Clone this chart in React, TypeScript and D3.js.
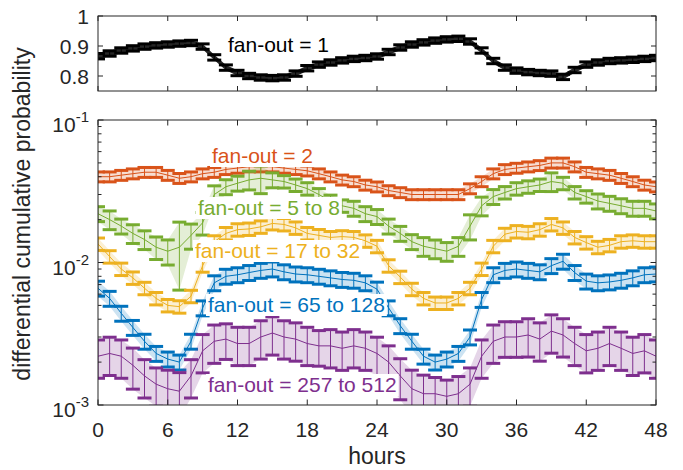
import React, { useEffect, useRef } from "react";
import * as d3 from "d3";

// hours 0..48, one point per hour
const hours = d3.range(0, 49);
const xTicks = [0, 6, 12, 18, 24, 30, 36, 42, 48];
const topTicks = [0.8, 0.9, 1];
const logMajor = [1e-3, 1e-2, 1e-1];
const logExp = ["-3", "-2", "-1"];

const fanout1 = [0.866, 0.875, 0.885, 0.892, 0.898, 0.902, 0.905, 0.908, 0.91, 0.898, 0.862, 0.828, 0.81, 0.8, 0.795, 0.793, 0.795, 0.808, 0.826, 0.838, 0.845, 0.852, 0.857, 0.86, 0.865, 0.88, 0.895, 0.905, 0.912, 0.918, 0.922, 0.924, 0.915, 0.885, 0.85, 0.828, 0.818, 0.813, 0.81, 0.808, 0.797, 0.82, 0.838, 0.845, 0.85, 0.852, 0.854, 0.857, 0.86];
const fanout2 = [0.04, 0.04, 0.041, 0.042, 0.043, 0.043, 0.041, 0.039, 0.04, 0.042, 0.043, 0.045, 0.046, 0.047, 0.047, 0.047, 0.046, 0.045, 0.044, 0.042, 0.04, 0.038, 0.037, 0.035, 0.034, 0.032, 0.031, 0.03, 0.03, 0.03, 0.03, 0.03, 0.033, 0.037, 0.042, 0.045, 0.046, 0.047, 0.048, 0.05, 0.05, 0.047, 0.043, 0.042, 0.041, 0.039, 0.037, 0.035, 0.034];
const fanout5to8 = [0.022, 0.02, 0.018, 0.016, 0.0145, 0.0128, 0.012, 0.0128, 0.0155, 0.019, 0.03, 0.034, 0.036, 0.038, 0.039, 0.038, 0.037, 0.035, 0.033, 0.03, 0.027, 0.025, 0.024, 0.022, 0.021, 0.018, 0.016, 0.014, 0.013, 0.0125, 0.012, 0.013, 0.018, 0.025, 0.029, 0.031, 0.033, 0.034, 0.035, 0.037, 0.036, 0.031, 0.029, 0.027, 0.026, 0.025, 0.024, 0.024, 0.023];
const fanout17to32 = [0.0135, 0.011, 0.009, 0.0078, 0.0066, 0.0056, 0.005, 0.0049, 0.0058, 0.0095, 0.014, 0.016, 0.017, 0.0172, 0.0178, 0.0188, 0.0185, 0.0175, 0.016, 0.0155, 0.015, 0.0152, 0.015, 0.0142, 0.013, 0.0095, 0.0079, 0.0065, 0.0056, 0.0052, 0.0052, 0.0056, 0.0066, 0.009, 0.013, 0.0158, 0.0165, 0.0163, 0.017, 0.0185, 0.0175, 0.015, 0.0138, 0.0128, 0.0132, 0.014, 0.0142, 0.014, 0.014];
const fanout65to128 = [0.0066, 0.0056, 0.0044, 0.0035, 0.0028, 0.0023, 0.0021, 0.002, 0.0028, 0.0048, 0.0072, 0.008, 0.0082, 0.0085, 0.0088, 0.009, 0.0086, 0.0083, 0.0082, 0.008, 0.0078, 0.0076, 0.0075, 0.0072, 0.0065, 0.0048, 0.0036, 0.0028, 0.0022, 0.002, 0.0021, 0.0023, 0.003, 0.0055, 0.0082, 0.0088, 0.009, 0.0088, 0.0086, 0.0095, 0.0102, 0.0085, 0.0074, 0.0072, 0.0073, 0.0075, 0.0078, 0.0082, 0.0083];
const fanout257to512 = [0.0022, 0.0023, 0.0022, 0.0019, 0.0016, 0.0014, 0.0013, 0.00125, 0.0016, 0.0024, 0.0028, 0.0029, 0.0027, 0.0027, 0.003, 0.0032, 0.003, 0.0029, 0.0027, 0.0026, 0.0026, 0.0025, 0.0026, 0.0025, 0.0023, 0.002, 0.0016, 0.0013, 0.0012, 0.0012, 0.00115, 0.0012, 0.0014, 0.0022, 0.0028, 0.003, 0.003, 0.0031, 0.0029, 0.0033, 0.0031, 0.0027, 0.0024, 0.0025, 0.0027, 0.0025, 0.0023, 0.0024, 0.0022];

// relative error bar half-widths
const err5to8 = [0.12, 0.15, 0.12, 0.15, 0.15, 0.18, 0.2, 0.5, 0.2, 0.18, 0.15, 0.12, 0.12, 0.15, 0.22, 0.12, 0.1, 0.1, 0.1, 0.1, 0.1, 0.1, 0.12, 0.12, 0.12, 0.12, 0.12, 0.12, 0.15, 0.15, 0.15, 0.15, 0.2, 0.15, 0.12, 0.1, 0.1, 0.1, 0.1, 0.15, 0.1, 0.1, 0.1, 0.12, 0.12, 0.12, 0.12, 0.12, 0.12];
const err257to512 = [0.3, 0.3, 0.3, 0.32, 0.3, 0.3, 0.35, 0.35, 0.3, 0.3, 0.3, 0.28, 0.3, 0.3, 0.3, 0.3, 0.3, 0.3, 0.3, 0.28, 0.3, 0.3, 0.3, 0.3, 0.3, 0.3, 0.32, 0.35, 0.35, 0.3, 0.3, 0.32, 0.3, 0.3, 0.3, 0.28, 0.28, 0.3, 0.3, 0.3, 0.3, 0.3, 0.3, 0.3, 0.3, 0.3, 0.3, 0.3, 0.3];
const err1 = 0.009;

const W = 683, H = 470;
const left = 98, right = 656;
const top1 = 16, bot1 = 91;
const top2 = 120, bot2 = 405;
const axisColor = "#262626";
const font = "'Liberation Sans', Arial, Helvetica, sans-serif";

const series = [
  { label: "fan-out = 2", values: fanout2, err: fanout2.map(() => 0.08), color: "#D95319", lx: 212, ly: 163 },
  { label: "fan-out = 5 to 8", values: fanout5to8, err: err5to8, color: "#77AC30", lx: 198, ly: 215 },
  { label: "fan-out = 17 to 32", values: fanout17to32, err: fanout17to32.map(() => 0.1), color: "#EDB120", lx: 195, ly: 258 },
  { label: "fan-out = 65 to 128", values: fanout65to128, err: fanout65to128.map(() => 0.12), color: "#0072BD", lx: 208, ly: 312 },
  { label: "fan-out = 257 to 512", values: fanout257to512, err: err257to512, color: "#7E2F8E", lx: 208, ly: 392 },
];

export default function App() {
  const ref = useRef<SVGSVGElement>(null);
  const x = d3.scaleLinear().domain([0, 48]).range([left, right]);
  const y1 = d3.scaleLinear().domain([0.75, 1]).range([bot1, top1]);
  const y2 = d3.scaleLog().domain([1e-3, 1e-1]).range([bot2, top2]);
  const cap = 7;

  // white boxes behind the in-plot labels
  useEffect(() => {
    const svg = d3.select(ref.current);
    svg.selectAll("g.lbl").each(function () {
      const g = d3.select(this as SVGGElement);
      g.selectAll("rect").remove();
      const b = (g.select("text").node() as SVGTextElement).getBBox();
      g.insert("rect", "text")
        .attr("x", b.x - 2).attr("y", b.y + 1)
        .attr("width", b.width + 4).attr("height", b.height - 1)
        .attr("fill", "white");
    });
  }, []);

  const line = (ys: (v: number) => number) =>
    d3.line<number>().x((_, i) => x(hours[i])).y((v) => ys(v));

  const minor: number[] = [];
  [1e-3, 1e-2].forEach((d) => { for (let k = 2; k <= 9; k++) minor.push(d * k); });

  const band1 = d3.area<number>()
    .x((_, i) => x(hours[i]))
    .y0((v) => y1(v - err1)).y1((v) => y1(v + err1));

  return (
    <div style={{ position: "absolute", left: 0, top: 0 }}>
      <svg ref={ref} width={W} height={H} style={{ fontFamily: font, display: "block" }}>
        <defs>
          <clipPath id="c1"><rect x={left} y={top1} width={right - left} height={bot1 - top1} /></clipPath>
          <clipPath id="c2"><rect x={left} y={top2} width={right - left} height={bot2 - top2} /></clipPath>
        </defs>
        <rect width={W} height={H} fill="white" />

        {/* top panel: fan-out = 1 */}
        <g clipPath="url(#c1)">
          <path d={band1(fanout1) || ""} fill="black" opacity={0.85} />
          {fanout1.map((v, i) => {
            const cx = x(hours[i]);
            const lo = y1(v - err1), hi = y1(v + err1);
            return (
              <g key={i} stroke="black" strokeWidth={3}>
                <line x1={cx} x2={cx} y1={lo} y2={hi} strokeWidth={1} />
                <line x1={cx - cap} x2={cx + cap} y1={lo} y2={lo} />
                <line x1={cx - cap} x2={cx + cap} y1={hi} y2={hi} />
              </g>
            );
          })}
        </g>
        <g className="lbl">
          <text x={228} y={52} fontSize={21} fill="black">fan-out = 1</text>
        </g>

        {/* bottom panel */}
        <g clipPath="url(#c2)">
          {series.map((s) => {
            const band = d3.area<number>()
              .x((_, i) => x(hours[i]))
              .y0((v, i) => y2(v * (1 - s.err[i])))
              .y1((v, i) => y2(v * (1 + s.err[i])));
            return (
              <g key={s.label}>
                <path d={band(s.values) || ""} fill={s.color} opacity={0.2} />
                <path d={line(y2)(s.values) || ""} fill="none" stroke={s.color} strokeWidth={1} />
                {s.values.map((v, i) => {
                  const cx = x(hours[i]);
                  const lo = y2(v * (1 - s.err[i])), hi = y2(v * (1 + s.err[i]));
                  return (
                    <g key={i} stroke={s.color} strokeWidth={3}>
                      <line x1={cx} x2={cx} y1={lo} y2={hi} strokeWidth={1} />
                      <line x1={cx - cap} x2={cx + cap} y1={lo} y2={lo} />
                      <line x1={cx - cap} x2={cx + cap} y1={hi} y2={hi} />
                    </g>
                  );
                })}
              </g>
            );
          })}
        </g>
        {series.map((s) => (
          <g key={s.label} className="lbl">
            <text x={s.lx} y={s.ly} fontSize={21} fill={s.color}>{s.label}</text>
          </g>
        ))}

        {/* axes boxes */}
        <g stroke={axisColor} strokeWidth={1} fill="none">
          <rect x={left} y={top1} width={right - left} height={bot1 - top1} />
          <rect x={left} y={top2} width={right - left} height={bot2 - top2} />
          {xTicks.map((t) => (
            <g key={t}>
              <line x1={x(t)} x2={x(t)} y1={top1} y2={top1 + 5} />
              <line x1={x(t)} x2={x(t)} y1={bot1} y2={bot1 - 5} />
              <line x1={x(t)} x2={x(t)} y1={top2} y2={top2 + 5.5} />
              <line x1={x(t)} x2={x(t)} y1={bot2} y2={bot2 - 5.5} />
            </g>
          ))}
          {topTicks.map((t) => (
            <g key={t}>
              <line x1={left} x2={left + 5} y1={y1(t)} y2={y1(t)} />
              <line x1={right} x2={right - 5} y1={y1(t)} y2={y1(t)} />
            </g>
          ))}
          {logMajor.map((t) => (
            <g key={t}>
              <line x1={left} x2={left + 5.5} y1={y2(t)} y2={y2(t)} />
              <line x1={right} x2={right - 5.5} y1={y2(t)} y2={y2(t)} />
            </g>
          ))}
          {minor.map((t) => (
            <g key={t}>
              <line x1={left} x2={left + 3.5} y1={y2(t)} y2={y2(t)} />
              <line x1={right} x2={right - 3.5} y1={y2(t)} y2={y2(t)} />
            </g>
          ))}
        </g>

        {/* tick labels */}
        <g fill={axisColor} fontSize={21}>
          {topTicks.map((t) => (
            <text key={t} x={89} y={y1(t) + 7.5} textAnchor="end">{d3.format("~g")(t)}</text>
          ))}
          {logMajor.map((t, i) => (
            <text key={t} x={89} y={y2(t) + 12} textAnchor="end">
              10<tspan fontSize={15} dy={-10}>{logExp[i]}</tspan>
            </text>
          ))}
          {xTicks.map((t) => (
            <text key={t} x={x(t)} y={437} textAnchor="middle">{t}</text>
          ))}
        </g>

        <text x={377} y={464} textAnchor="middle" fontSize={23} fill={axisColor}>hours</text>
        <text transform="translate(30,214) rotate(-90)" textAnchor="middle" fontSize={23} fill={axisColor}>
          differential cumulative probability
        </text>
      </svg>
    </div>
  );
}
